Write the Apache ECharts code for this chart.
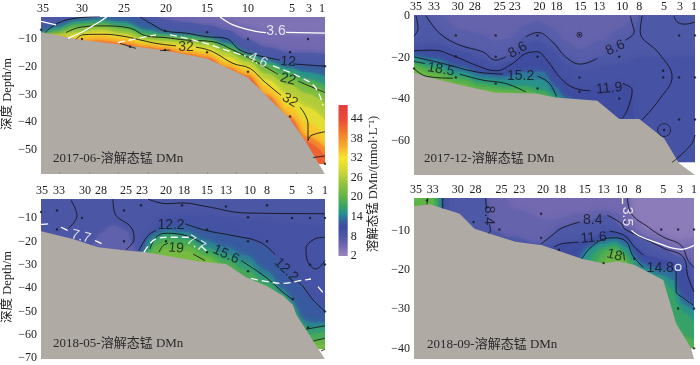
<!DOCTYPE html>
<html>
<head>
<meta charset="utf-8">
<style>html,body{margin:0;padding:0;background:#fff}#chart{width:700px;height:365px}</style>
<script src="https://cdn.jsdelivr.net/npm/echarts@6/dist/echarts.min.js"></script>
</head>
<body>
<div id="chart"></div>
<script>
// colour bar
const rampValues = [2, 5, 8, 11, 13, 15, 17, 20, 24, 28, 32, 36, 40, 44, 48.3]
const rampColors = ['#9a86be', '#7269b1', '#4d58a6', '#3f4ca0', '#33689f', '#28908f', '#36a268', '#5fb347', '#8fc23f', '#d0d636', '#f7e62d', '#f7a92b', '#f2792c', '#ea4a38', '#e43d3b']
const barTicks = [2, 8, 14, 20, 26, 32, 38, 44]

// 2017-06
const p1Stations = ['35', '30', '25', '20', '15', '10', '5', '3', '1']
const p1StationX = [2, 41, 83, 125, 166, 207, 251, 268, 281]
const p1DepthTicks = [-10, -20, -30, -40, -50]
const p1BottomTicks = [18, 48, 77, 107, 136, 166, 195, 225, 255]
const p1Terrain = [[0, -7.6], [41, -10.4], [83, -12.2], [124, -14.2], [166, -17], [207, -24], [249, -38.8], [265, -47.2], [284, -58.7]]
const p1NoData = [[262, -55], [284, -55]]
const p1X = [0, 15, 35, 59, 83, 105, 124, 145, 166, 185, 207, 225, 249, 265, 284]
const p1L5 = [0, 0, 0, 0, 0, 0, 0, 0, 0, -3, -5.5, -7.3, -9, -9, -9]
const p1L8 = [0, 0, 0, 0, 0, 0, -3, -4, -5, -6.7, -10.4, -13, -15, -15, -15.5]
const p1L12 = [-7.4, -4.3, -2.5, -1.5, -1, -3.5, -7.1, -7.9, -8.9, -9.8, -15.2, -17, -18.6, -19.4, -19.8]
const p1L15 = [-8, -6, -3.7, -3.2, -4, -6.8, -8.2, -8.7, -9.8, -11.5, -15.7, -18, -20.5, -22, -23.5]
const p1L18 = [-9, -7.2, -4.7, -4.3, -5.3, -8, -8.9, -9.5, -10.4, -12.5, -16.2, -19, -22, -24.5, -26.5]
const p1L22 = [-10, -8, -5.7, -5.2, -6.4, -9, -9.6, -10.4, -11, -13.5, -16.9, -20.4, -23.9, -26, -29.3]
const p1L26 = [-10, -8.5, -7.6, -6.6, -8, -10.2, -10.8, -11.2, -12.2, -14.8, -18.2, -22.5, -26.7, -29.7, -33.3]
const p1L30 = [-10, -10, -8.6, -7.5, -8.8, -11, -11.5, -12.4, -13.3, -16.4, -19.8, -24.6, -30.3, -34.5, -39.4]
const p1L34 = [-10, -10, -10, -8.7, -10, -12.2, -12.8, -14, -15.2, -18.5, -21.5, -27, -34.5, -40, -45.4]
const p1L38 = [-10, -10, -11, -10.5, -11.6, -13, -13.8, -15.2, -16.5, -20, -23, -30, -38, -45, -49]
const p1L42 = [-10, -10, -12, -11.5, -12.2, -13.5, -14.2, -16, -17, -21, -24, -31, -39, -47, -52]
const p1Black = [
  [[4, -7.7], [17, -4.3], [35, -2.5], [59, -1.9]],
  [[99, -2.1], [112, -4.9], [124, -7.1], [145, -7.9], [166, -9.2], [185, -9.8], [199, -14], [215, -15.8], [239, -17.6]],
  [[252, -19], [284, -19.8]],
  [[25, -7.7], [39, -5.8], [62, -5.3], [89, -6.1], [105, -8.9], [124, -9.5], [145, -10.4], [172, -11], [192, -14], [212, -17.6], [237, -22.7]],
  [[257, -25.2], [284, -29.3]],
  [[35, -10.1], [42, -8.5], [62, -8.3], [85, -9.2], [102, -10.6], [115, -11.6], [135, -12.5]],
  [[155, -13], [165, -13.7], [175, -15.2], [192, -18.8], [209, -20.6], [222, -24.9], [240, -30.3]],
  [[259, -34.5], [267, -40.6], [267, -46.6]],
  [[267, -46.6], [270, -44.8], [284, -43.4]],
  [[79, -11.6], [95, -13.4]],
  [[119, -14.2], [129, -14]],
  [[272, -52.7], [284, -52.1]]
]
const p1White = [
  [[0, -3.7], [15, -4.9]],
  [[27, -9.8], [42, -7.3], [59, -3.7], [67, -1.7]],
  [[179, -2.1], [192, -4.9], [215, -7.3], [225, -7.7]],
  [[245, -7.6], [284, -7.9]]
]
const p1Dashed = [
  [[77, -11.3], [115, -8.5]],
  [[129, -8.5], [159, -11], [185, -14], [205, -16.2]],
  [[232, -19.7], [259, -23.7], [274, -27.3], [282, -33.9]]
]
const p1Dots = [[0, -6.7], [124, -7.1], [166, -7.6], [207, -10], [267, -10], [249, -14.8], [284, -19.8], [41, -10], [89, -12.8], [124, -14], [166, -14.8], [207, -21.8], [249, -37.9], [284, -54.9]]
const p1Labels = [[247, -18.2, '12'], [247, -24.5, '22'], [145, -13.1, '32'], [249, -32.1, '32']]
const p1LabelAngles = [-5, -15, 0, -30]
const p1WhiteLabels = [[235, -7.3, '3.6'], [217, -17.6, '4.6']]
const p1WhiteAngles = [0, -25]

// 2017-12
const p2Stations = ['35', '33', '30', '28', '25', '23', '20', '18', '15', '13', '10', '8', '5', '3', '1']
const p2StationX = [2, 20, 44, 61, 86, 101, 126, 143, 167, 186, 209, 226, 251, 267, 281]
const p2DepthTicks = [0, -20, -40, -60]
const p2Terrain = [[0, -27.4], [19, -30], [46, -33.3], [82, -37], [122, -37.3], [142, -39.2], [184, -40.8], [206, -49.6], [226, -49.6], [251, -58.9], [266, -70.9], [282, -76.5]]
const p2NoData = [[258, -70.4], [282, -70.4]]
const p2UpperX = [0, 12, 26, 46, 69, 82, 96, 112, 124, 139, 152, 167, 186, 212, 221, 227, 282]
const p2L7 = [0, 0, 0, -6.9, -9.3, -12.5, -10.9, -4.5, -2.9, -6.1, -12.5, -16.5, -12.5, -5.3, -0.5, 0, 0]
const p2L8 = [0, 0, -8.5, -14.1, -17.3, -21.3, -18.9, -10.1, -8, -12.5, -19.7, -23.2, -19.7, -11.7, -7.7, 0, 0]
const p2L95 = [-14.9, -14.1, -14.1, -17.3, -20.5, -24.5, -22.1, -14.1, -12.5, -16.5, -23.7, -26.9, -25.3, -22.9, -21.3, -20.5, -19.7]
const p2L11X = [0, 19, 42, 62, 82, 99, 112, 124, 132, 149, 162, 177, 196, 209, 219, 219]
const p2L11 = [-16.8, -16.5, -19.7, -23.7, -26.4, -22.9, -18.1, -17.3, -20.5, -30.9, -34.9, -36, -35, -33, -35.7, -50]
const p2LowX = [0, 19, 46, 69, 92, 112, 129, 142, 152, 169]
const p2L135 = [-18.9, -20.5, -24.5, -28.5, -29.3, -26.9, -26.9, -34.1, -39.7, -45]
const p2L15 = [-19.7, -22.9, -26.9, -30.1, -30.9, -30.1, -30.9, -38.1, -42, -45]
const p2L17 = [-21.6, -24.5, -29, -32.2, -33.8, -33.8, -35.7, -39.4, -43, -45]
const p2L19 = [-22.9, -26.1, -30.6, -33.8, -35.4, -35.7, -37.6, -41, -44, -45]
const p2L21 = [-24.5, -28, -32.5, -35.7, -36.6, -37.3, -39, -42, -44, -45]
const p2Black = [
  [[12, 0], [26, -8.5], [46, -14.1], [69, -17.3], [82, -21.3], [92, -19.7]],
  [[112, -10.1], [124, -8], [139, -12.5], [152, -19.7], [167, -23.2], [184, -20.5]],
  [[212, -11.7], [221, -7.7], [219, -3.7], [217, 0]],
  [[229, 0], [227, -7.7], [246, -18.1], [259, -29.3], [247, -39.7], [229, -50]],
  [[0, -16.8], [19, -16.5], [42, -19.7], [62, -23.7], [82, -26.4], [99, -22.9], [112, -18.1], [124, -17.3], [132, -20.5], [149, -30.9], [162, -34.9], [177, -36]],
  [[209, -32.5], [219, -35.7], [214, -45.3], [209, -49.3]],
  [[0, -19.7], [29, -22.9], [62, -26.9], [89, -28]],
  [[124, -29], [136, -32.5], [143, -38.9]],
  [[0, -22], [11, -22.9]],
  [[46, -28], [69, -30.9], [92, -32.5], [112, -36.5]],
  [[0, -25.3], [12, -29], [39, -30]],
  [[261, 0], [264, -2.9], [272, -4], [282, -3]],
  [[282, -57.3], [279, -61.3], [266, -67.7], [259, -70.4]],
  [[2, 0], [4, -6.1], [2, -8.5], [0, -9.8]]
]
const p2Dots = [[42, -9.4], [82, -9.4], [124, -9.4], [166, -9.1], [42, -19.4], [82, -19.7], [124, -19.7], [206, -19.7], [42, -29.6], [82, -32.5], [124, -34.9], [166, -29.6], [166, -36.5], [206, -39.8], [250, -26.4], [250, -29.6], [266, -29.6], [282, -29.6], [266, -9.4], [282, -9.4], [266, -49.8], [282, -49.8], [251, -54.9], [0, -25.3]]
const p2RingSmall = [[166, -9.1]]
const p2RingLarge = [[251, -54.9]]
const p2Labels = [[104, -16.5, '8.6'], [202, -15.4, '8.6'], [196, -34.9, '11.9'], [107, -29, '15.2'], [27, -25.8, '18.5']]
const p2LabelAngles = [30, 25, 5, 0, -10]

// 2018-05
const p3Stations = ['35', '33', '30', '28', '25', '23', '20', '18', '15', '13', '10', '8', '5', '3', '1']
const p3StationX = [1, 18, 44, 60, 85, 101, 125, 143, 166, 185, 209, 226, 251, 269, 284]
const p3DepthTicks = [-10, -20, -30, -40, -50, -60, -70]
const p3Terrain = [[0, -15.6], [32, -18.9], [57, -22.5], [85, -23.9], [105, -24.6], [125, -26.1], [159, -28.7], [185, -29.7], [205, -35.4], [225, -39], [242, -43.3], [252, -47.2], [255, -51.2], [284, -70.5]]
const p3NoData = [[270, -66.2], [284, -66.2]]
const p3PatchX = [52, 59, 72, 85, 92, 95]
const p3Patch = [-23.2, -16.7, -13.2, -15.3, -22.5, -24.6]
const p3L95X = [107, 125, 145, 165, 205, 284]
const p3L95 = [-22, -9, -8, -9, -11, -14]
const p3X = [98, 102, 107, 115, 125, 145, 165, 185, 205, 225, 242, 252, 259, 269, 284]
const p3L12 = [-26, -24.2, -17.5, -15.3, -13.6, -12.4, -15.3, -16.7, -18.9, -22.5, -31.1, -35.4, -38.3, -44.7, -49.7]
const p3L14 = [-26, -26, -19.6, -17.5, -15.6, -16, -19.6, -22.5, -26, -32.5, -40.4, -45.7, -52.6, -54.8, -54.8]
const p3L16 = [-27, -27, -23.2, -18.2, -16.5, -17.5, -22.5, -25.6, -28.9, -35.4, -42.6, -48.3, -54.8, -56.9, -56.2]
const p3L18 = [-28, -28, -24.6, -19.6, -18.2, -19.3, -24.2, -27.9, -32.5, -38.3, -43.5, -50, -56.9, -59.8, -58.4]
const p3L20 = [-28, -28, -26, -21.8, -20.3, -21.8, -26.1, -31, -37, -41, -46, -52, -57.6, -62.7, -61.5]
const p3L22 = [-28, -28, -28, -26, -23.2, -24.2, -27.5, -31, -38, -42, -47, -53, -58, -64.8, -64.1]
const p3Black = [
  [[30, -2.4], [36, -8.9], [27, -14.6]],
  [[72, -1.8], [74, -8.1], [90, -13.9], [93, -18.9], [85, -23.6]],
  [[107, -1.8], [125, -3.8], [142, -3.5], [165, -5], [205, -7.8], [284, -8.1]],
  [[98, -23.9], [107, -17.5], [115, -15.3]],
  [[144, -12.4], [165, -15.3], [192, -17.5], [219, -20.3], [234, -25.6]],
  [[255, -36.8], [261, -38.8], [272, -45], [284, -50]],
  [[109, -23.2], [115, -18.2], [125, -16.5], [145, -17.5], [162, -21]],
  [[200, -28.2], [225, -35.4], [242, -41.8], [252, -45.1]],
  [[118, -24.6], [122, -21.8], [127, -20.8]],
  [[152, -25.4], [164, -28.2]],
  [[284, -18.2], [274, -18.9], [265, -23.2], [267, -28.9], [275, -31.8], [284, -28.2]],
  [[265, -57.6], [284, -56.2]],
  [[272, -62.7], [284, -61.5]],
  [[280, -67], [284, -66.2]]
]
const p3Dashed = [
  [[0, -12.7], [10, -12.4]],
  [[20, -13.9], [27, -15.3]],
  [[54, -19.6], [61, -21]],
  [[103, -24.6], [115, -18.9], [129, -18.2], [149, -18.2]],
  [[160, -22], [167, -24.6]],
  [[210, -35.8], [225, -37.1], [242, -38], [259, -36.8], [270, -36.1]],
  [[277, -39.4], [282, -41.9]]
]
const p3Dots = [[100, -4.5], [141, -4.5], [185, -5], [226, -4.5], [0, -7.4], [16, -6.7], [83, -6.7], [41, -9.9], [207, -9.6], [251, -9.9], [269, -9.9], [284, -9.9], [16, -14.9], [166, -14.9], [83, -19.9], [207, -19.9], [226, -19.9], [125, -19.9], [166, -24.6], [207, -32.8], [252, -44.7], [269, -29.9], [284, -29.9], [284, -50], [267, -56.9]]
const p3Labels = [[130, -13.2, '12.2'], [245, -32.2, '12.2'], [185, -25.6, '15.6'], [135, -22.9, '19']]
const p3LabelAngles = [0, -45, -25, -5]
const p3WhiteLabels = [[40, -17.9, '7.7'], [155, -21, '7.7']]
const p3WhiteAngles = [-15, -30]

// 2018-09
const p4Stations = ['35', '33', '30', '28', '25', '23', '20', '18', '15', '13', '10', '8', '5', '3', '1']
const p4StationX = [2, 19, 44, 62, 88, 106, 130, 147, 172, 191, 209, 226, 251, 268, 282]
const p4DepthTicks = [-10, -20, -30, -40]
const p4Terrain = [[0, -3.9], [16, -3.4], [46, -5.8], [61, -9.6], [82, -11.3], [102, -12.9], [129, -13.8], [169, -17.2], [191, -18.4], [206, -17.8], [222, -18.8], [251, -22.6], [264, -33.6], [279, -39.9], [282, -42.6]]
const p4NoData = [[276, -39.9], [282, -39.9]]
const p4L4X = [0, 211, 222, 236, 269, 282]
const p4L4 = [0, 0, -7.5, -10, -12.5, -11.7]
const p4L5X = [0, 216, 219, 236, 269, 282]
const p4L5 = [0, 0, -9.2, -11.7, -14.2, -13.4]
const p4L6X = [0, 86, 102, 136, 169, 189, 206, 216, 236, 269, 282]
const p4L6 = [0, 0, -4.9, -7.5, -5.8, -4.9, -5.8, -10, -13.4, -16.3, -18.4]
const p4L8X = [0, 72, 77, 96, 127, 149, 172, 194, 212, 229, 249, 266, 282]
const p4L8 = [0, 0, -10, -11.7, -13.4, -9.2, -7.9, -6.2, -9.6, -12.1, -14.6, -16.7, -19.7]
const p4L9Left = [[0, 0], [33, 0]]
const p4L11Left = [[0, 0], [29, 0]]
const p4L14Left = [[0, 0], [27, 0]]
const p4L17Left = [[0, 0], [24, 0]]
const p4L20Left = [[0, 0], [20, 0]]
const p4L11X = [127, 139, 149, 166, 181, 197, 214, 222, 236, 252, 269, 282]
const p4L11 = [-14.5, -14.2, -13.4, -13, -11.7, -10.2, -11.2, -14.2, -16.5, -17.5, -19, -25]
const p4L13X = [166, 176, 189, 202, 214, 222, 229, 249, 264, 264.3, 272, 282]
const p4L13 = [-17.5, -14.2, -12.4, -11.9, -12.9, -16.3, -18.4, -19.7, -20.5, -25.2, -27.3, -29]
const p4L15X = [169, 177, 189, 202, 214, 222, 229, 249, 261, 264, 272, 282]
const p4L15 = [-17.8, -14.6, -13.4, -12.8, -14.2, -17.4, -19.4, -21.4, -22.6, -26.4, -29, -30.6]
const p4L17X = [177, 189, 202, 212, 219, 229, 249, 261, 264, 272, 282]
const p4L17 = [-17, -14.6, -13.8, -15.5, -18, -21, -22.6, -25.2, -28.5, -31, -33.6]
const p4L19X = [184, 194, 202, 211, 217, 229, 264, 272, 282]
const p4L19 = [-17.9, -15, -14.6, -16.3, -18.4, -24, -36, -37, -38]
const p4L21X = [189, 196, 204, 211, 217, 282]
const p4L21 = [-20, -16.3, -15.5, -17.2, -20, -45]
const p4Black = [
  [[14, -1.8], [13, -3.4]],
  [[29, -1.8], [29, -4.5]],
  [[72, -1.8], [73, -4.5]],
  [[76, -8.5], [77, -10], [75, -10.8]],
  [[128, -13.4], [139, -11.3], [149, -9.4], [167, -7.9]],
  [[195, -6.2], [209, -8.3], [212, -9.6], [232, -12.1], [252, -14.6], [271, -16.7], [276, -21.8], [282, -25.6]],
  [[215, -1.8], [219, -5.8], [236, -9.2], [251, -11.7], [269, -13.8], [276, -17.6], [282, -19.4]],
  [[141, -14.2], [149, -13.4], [166, -13]],
  [[197, -10.2], [212, -11.3], [222, -14.2], [231, -16.3]],
  [[169, -17.2], [177, -14.6], [189, -12.4], [202, -11.9], [214, -12.9], [220, -16.3], [231, -19.4]],
  [[264, -20.3], [264, -25.2], [272, -27.3], [282, -29]],
  [[211, -15.5], [212, -17.6]]
]
const p4White = [
  [[210, -1.8], [210, -3.3]],
  [[219, -10], [226, -11.3], [242, -12.9], [269, -14.8], [282, -13.8]]
]
const p4Dots = [[128, -5.8], [60, -7.9], [86, -9.8], [128, -11.9], [146, -14.9], [212, -7.9], [249, -9.8], [266, -9.8], [282, -9.8], [222, -17.2], [191, -18.3], [266, -29.8], [282, -29.8], [282, -39.9], [13, -2.4]]
const p4WhiteRing = [[266, -19.4]]
const p4Labels = [[75, -6.2, '8.4'], [180, -7.5, '8.4'], [181, -11.9, '11.6'], [248, -19.7, '14.8'], [202, -16.3, '18']]
const p4LabelAngles = [-90, 0, 5, 0, -15]
const p4WhiteLabels = [[214, -6.5, '3.5']]
const p4WhiteAngles = [-90]

const serif = '"Liberation Serif","Noto Sans CJK SC",serif'
const sans = '"Liberation Sans",sans-serif'

function hexToRgb(h) {
  return [1, 3, 5].map(i => parseInt(h.substr(i, 2), 16))
}
function colorOf(v) {
  let i = 0
  while (i < rampValues.length - 2 && v > rampValues[i + 1]) i++
  const t = Math.min(1, Math.max(0, (v - rampValues[i]) / (rampValues[i + 1] - rampValues[i])))
  const a = hexToRgb(rampColors[i]), b = hexToRgb(rampColors[i + 1])
  return 'rgb(' + a.map((c, k) => Math.round(c + (b[k] - c) * t)).join(',') + ')'
}
const zip = (xs, ds) => xs.map((x, i) => [x, ds[i]])

const panels = [
  {
    left: 41, top: 17, width: 284, height: 157, xMax: 284, yMin: -58.6, yMax: -2.1, base: 4,
    stations: p1Stations, stationX: p1StationX, depthTicks: p1DepthTicks, terrain: p1Terrain, noData: p1NoData,
    bands: [[5, zip(p1X, p1L5)], [8, zip(p1X, p1L8)], [12, zip(p1X, p1L12)], [15, zip(p1X, p1L15)], [18, zip(p1X, p1L18)], [22, zip(p1X, p1L22)], [26, zip(p1X, p1L26)], [30, zip(p1X, p1L30)], [34, zip(p1X, p1L34)], [38, zip(p1X, p1L38)], [42, zip(p1X, p1L42)]],
    black: p1Black, white: p1White, dashed: p1Dashed, dots: p1Dots,
    labels: p1Labels, angles: p1LabelAngles, whiteLabels: p1WhiteLabels, whiteAngles: p1WhiteAngles
  },
  {
    left: 414, top: 15, width: 282, height: 160, xMax: 282, yMin: -76.5, yMax: 0.4, base: 6,
    stations: p2Stations, stationX: p2StationX, depthTicks: p2DepthTicks, terrain: p2Terrain, noData: p2NoData,
    bands: [[7, zip(p2UpperX, p2L7)], [8, zip(p2UpperX, p2L8)], [9.5, zip(p2UpperX, p2L95)], [11, zip(p2L11X, p2L11)], [13.5, zip(p2LowX, p2L135)], [15, zip(p2LowX, p2L15)], [17, zip(p2LowX, p2L17)], [19, zip(p2LowX, p2L19)], [21, zip(p2LowX, p2L21)]],
    black: p2Black, white: [], dashed: [], dots: p2Dots,
    labels: p2Labels, angles: p2LabelAngles, whiteLabels: [], whiteAngles: []
  },
  {
    left: 41, top: 199, width: 284, height: 160, xMax: 284, yMin: -70.4, yMax: -1.8, base: 8.5,
    stations: p3Stations, stationX: p3StationX, depthTicks: p3DepthTicks, terrain: p3Terrain, noData: p3NoData,
    bands: [[6.5, zip(p3PatchX, p3Patch)], [9.5, zip(p3L95X, p3L95)], [12, zip(p3X, p3L12)], [14, zip(p3X, p3L14)], [16, zip(p3X, p3L16)], [18, zip(p3X, p3L18)], [20, zip(p3X, p3L20)], [22, zip(p3X, p3L22)]],
    black: p3Black, white: [], dashed: p3Dashed, dots: p3Dots,
    labels: p3Labels, angles: p3LabelAngles, whiteLabels: p3WhiteLabels, whiteAngles: p3WhiteAngles
  },
  {
    left: 414, top: 198, width: 282, height: 161, xMax: 282, yMin: -42.6, yMax: -1.8, base: 3,
    stations: p4Stations, stationX: p4StationX, depthTicks: p4DepthTicks, terrain: p4Terrain, noData: p4NoData,
    bands: [[4, zip(p4L4X, p4L4)], [5, zip(p4L5X, p4L5)], [6, zip(p4L6X, p4L6)], [8, zip(p4L8X, p4L8)], [9, p4L9Left], [11, p4L11Left], [11, zip(p4L11X, p4L11)], [13, zip(p4L13X, p4L13)], [14, p4L14Left], [15, zip(p4L15X, p4L15)], [17, p4L17Left], [17, zip(p4L17X, p4L17)], [19, zip(p4L19X, p4L19)], [20, p4L20Left], [21, zip(p4L21X, p4L21)]],
    black: p4Black, white: p4White, dashed: [], dots: p4Dots,
    labels: p4Labels, angles: p4LabelAngles, whiteLabels: p4WhiteLabels, whiteAngles: p4WhiteAngles
  }
]

const grid = [], xAxis = [], yAxis = [], series = []

function areaLine(i, data, color, extra) {
  return Object.assign({
    type: 'line', xAxisIndex: i, yAxisIndex: i, data: data, symbol: 'none', silent: true, animation: false, z: 2,
    lineStyle: { width: 0 }, areaStyle: { color: color, opacity: 1, origin: 'start' }
  }, extra || {})
}
function softBand(i, data, color) {
  // shadow softens the step between neighbouring bands
  return areaLine(i, data, color, {
    smooth: 0.4, smoothMonotone: 'x',
    areaStyle: { color: color, opacity: 1, origin: 'start', shadowBlur: 6, shadowColor: color }
  })
}
function contour(i, data, color, width, type) {
  return {
    type: 'line', xAxisIndex: i, yAxisIndex: i, data: data, symbol: 'none', silent: true, animation: false, z: 3,
    smooth: 0.4, lineStyle: { color: color, width: width, type: type || 'solid' }
  }
}
function textLabels(i, items, angles, color, font, size) {
  return {
    type: 'scatter', xAxisIndex: i, yAxisIndex: i, symbolSize: 1, silent: true, animation: false, clip: false, z: 6,
    itemStyle: { color: 'rgba(0,0,0,0)' }, labelLayout: { hideOverlap: false },
    data: items.map((t, k) => ({
      value: [t[0], t[1]],
      label: { show: true, position: 'inside', formatter: t[2], rotate: angles[k], color: color, fontFamily: font, fontSize: size }
    }))
  }
}
function rings(i, data, size, color, width) {
  return {
    type: 'scatter', xAxisIndex: i, yAxisIndex: i, data: data, symbol: 'circle', symbolSize: size, silent: true, animation: false, z: 5,
    itemStyle: { color: 'transparent', borderColor: color, borderWidth: width }
  }
}

panels.forEach((p, i) => {
  grid.push({ left: p.left, top: p.top, width: p.width, height: p.height, show: true, backgroundColor: colorOf(p.base), borderWidth: 0 })
  xAxis.push({
    gridIndex: i, type: 'value', position: 'top', min: 0, max: p.xMax,
    axisLine: { show: false }, axisTick: { show: false }, splitLine: { show: false },
    axisLabel: {
      customValues: p.stationX, margin: 2, color: '#222', fontFamily: serif, fontSize: 12, hideOverlap: false,
      formatter: v => p.stations[p.stationX.indexOf(v)]
    }
  })
  yAxis.push({
    gridIndex: i, type: 'value', min: p.yMin, max: p.yMax,
    axisLine: { show: false }, axisTick: { show: false }, splitLine: { show: false },
    axisLabel: {
      customValues: p.depthTicks, margin: 4, color: '#222', fontFamily: serif, fontSize: 12, hideOverlap: false,
      formatter: v => String(v).replace('-', '\u2212')
    }
  })
  p.bands.forEach(b => series.push(softBand(i, b[1], colorOf(b[0]))))
  series.push(areaLine(i, p.noData, '#ffffff'))
  series.push(areaLine(i, p.terrain, '#b0aaa5'))
  p.black.forEach(s => series.push(contour(i, s, '#15151c', 0.9)))
  p.white.forEach(s => series.push(contour(i, s, '#ffffff', 1.3)))
  p.dashed.forEach(s => series.push(contour(i, s, '#ffffff', 1.3, [7, 4])))
  series.push({
    type: 'scatter', xAxisIndex: i, yAxisIndex: i, data: p.dots, symbolSize: 2.4, silent: true, animation: false, z: 5,
    clip: false, itemStyle: { color: '#15151c' }
  })
  series.push(textLabels(i, p.labels, p.angles, '#15151c', sans, 14))
  series.push(textLabels(i, p.whiteLabels, p.whiteAngles, '#ffffff', sans, 14))
})
series.push(rings(1, p2RingSmall, 5, '#15151c', 0.9))
series.push(rings(1, p2RingLarge, 13, '#15151c', 0.9))
series.push(rings(3, p4WhiteRing, 6, '#ffffff', 1.3))

// ticks under the first panel, they sit on the seabed fill
xAxis.push({
  gridIndex: 0, type: 'value', position: 'bottom', min: 0, max: panels[0].xMax,
  axisLine: { show: false }, splitLine: { show: false }, axisLabel: { show: false }, z: 4,
  axisTick: { show: true, inside: true, length: 2, customValues: p1BottomTicks, lineStyle: { color: '#8f8985', width: 0.8 } }
})

// colour bar grid
grid.push({ left: 338.5, top: 105, width: 9.2, height: 151 })
xAxis.push({ gridIndex: 4, type: 'category', data: ['DMn'], show: false })
yAxis.push({
  gridIndex: 4, type: 'value', position: 'right', min: 2, max: 48.3,
  axisLine: { show: false }, axisTick: { show: false }, splitLine: { show: false },
  axisLabel: { customValues: barTicks, margin: 3, color: '#222', fontFamily: serif, fontSize: 12, hideOverlap: false }
})
series.push({
  type: 'bar', xAxisIndex: 5, yAxisIndex: 4, data: [48.3], barWidth: '100%', silent: true, animation: false,
  itemStyle: {
    color: new echarts.graphic.LinearGradient(0, 1, 0, 0, rampValues.map((v, k) => ({
      offset: (v - 2) / 46.3, color: rampColors[k]
    })))
  }
})

function panelTitle(text, x, y) {
  return { type: 'text', x: x, y: y, z: 100, style: { text: text, font: '13px ' + serif, fill: '#2a2a2a', textVerticalAlign: 'middle' } }
}
function sideText(text, x, y) {
  return { type: 'text', x: x, y: y, rotation: Math.PI / 2, z: 100, style: { text: text, font: '12.5px ' + serif, fill: '#222', textAlign: 'center', textVerticalAlign: 'middle' } }
}

const chart = echarts.init(document.getElementById('chart'))
chart.setOption({
  animation: false,
  backgroundColor: '#fff',
  grid, xAxis, yAxis, series,
  graphic: [
    panelTitle('2017-06-溶解态锰 DMn', 53, 159),
    panelTitle('2017-12-溶解态锰 DMn', 424, 159),
    panelTitle('2018-05-溶解态锰 DMn', 53, 344),
    panelTitle('2018-09-溶解态锰 DMn', 427, 345),
    sideText('深度 Depth/m', 8, 94),
    sideText('深度 Depth/m', 8, 287),
    sideText('溶解态锰 DMn/(nmol·L⁻¹)', 374, 184)
  ]
})
</script>
</body>
</html>
